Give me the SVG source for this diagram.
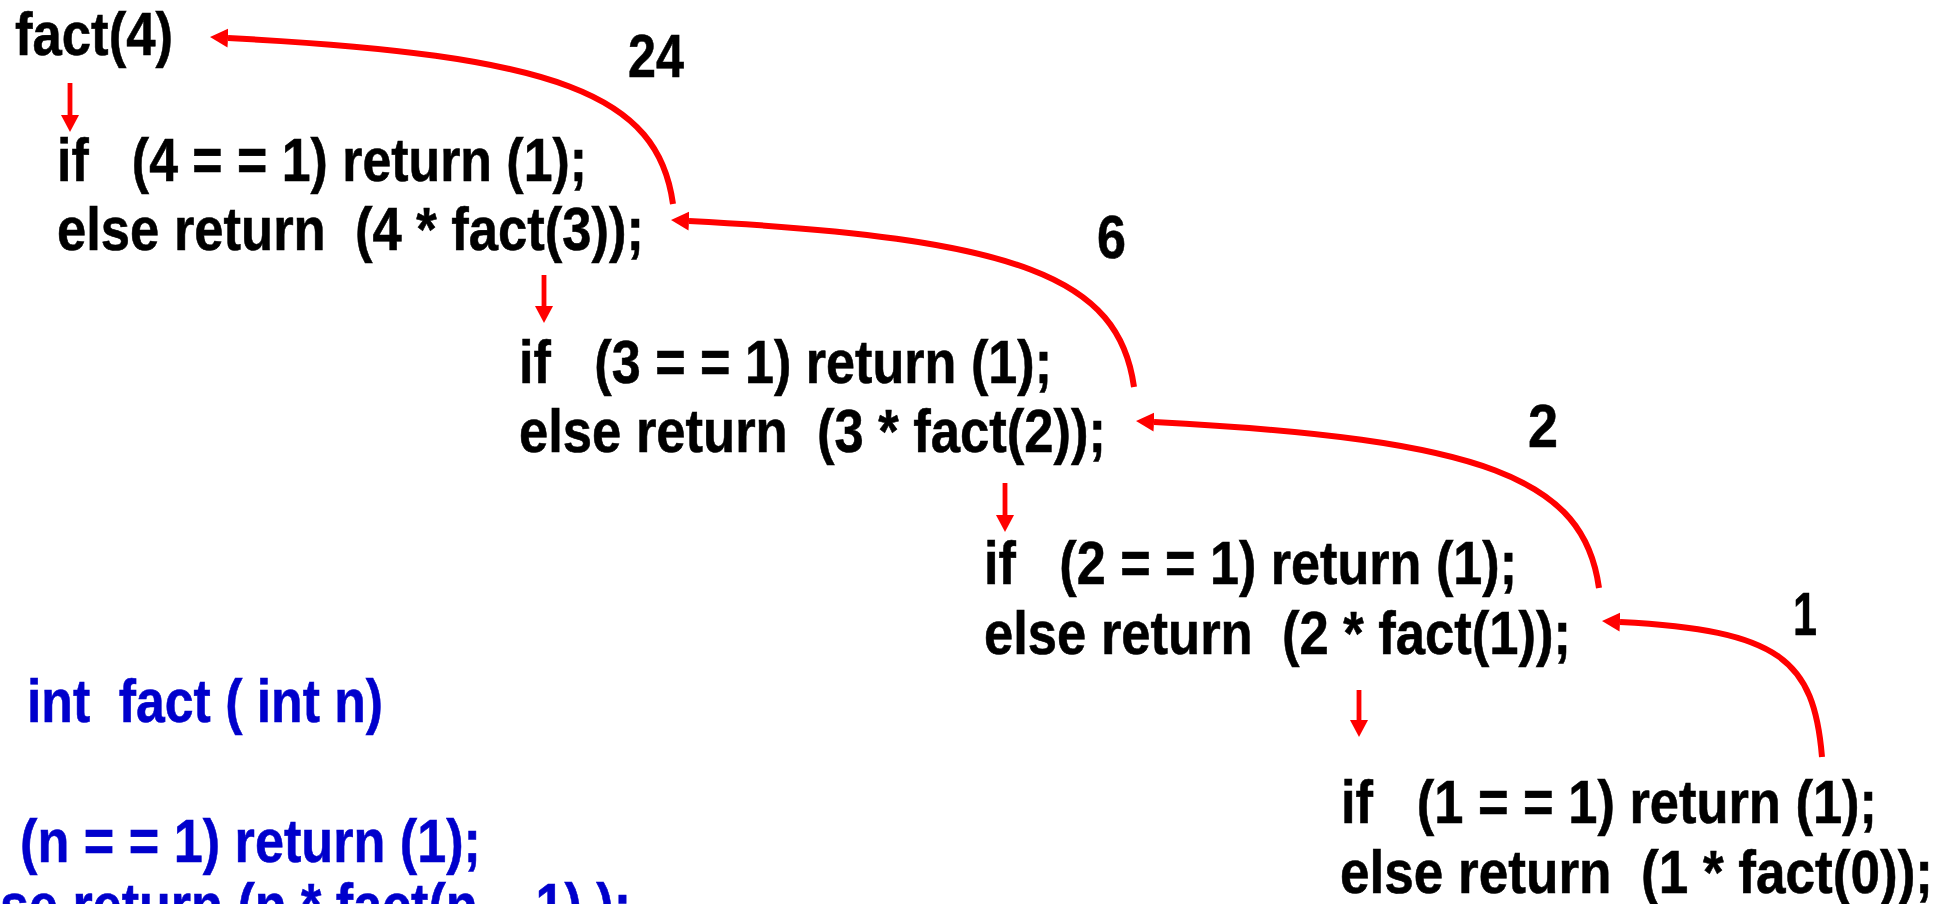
<svg xmlns="http://www.w3.org/2000/svg" width="1937" height="904" viewBox="0 0 1937 904">
<style>
  text { font-family: "Liberation Sans Narrow", "Liberation Sans", Arial, sans-serif; font-weight: bold; font-size: 62px; white-space: pre; stroke-width: 0.6; }
  .code { fill: #000000; stroke: #000000; }
  .def { fill: #0000CC; stroke: #0000CC; }
  .val { fill: #000000; stroke: #000000; }
  .ret { fill: none; stroke: #FF0000; stroke-width: 6; marker-end: url(#headL); }
  .call { fill: none; stroke: #FF0000; stroke-width: 4.8; marker-end: url(#headD); }
</style>
<defs>
  <marker id="headL" markerUnits="userSpaceOnUse" viewBox="0 -10 20 20" refX="0" refY="0" markerWidth="20" markerHeight="20" orient="auto">
    <path d="M0,-9.5 L18,0 L0,9.5 Z" fill="#FF0000"/>
  </marker>
  <marker id="headD" markerUnits="userSpaceOnUse" viewBox="0 -10 20 20" refX="0" refY="0" markerWidth="20" markerHeight="20" orient="auto">
    <path d="M0,-9 L17,0 L0,9 Z" fill="#FF0000"/>
  </marker>
</defs>

<g id="call-fact4">
  <text class="code" x="15" y="55" textLength="158" lengthAdjust="spacingAndGlyphs">fact(4)</text>
</g>

<g id="level-4">
  <text class="code" x="57" y="181" textLength="530" lengthAdjust="spacingAndGlyphs">if   (4 = = 1) return (1);</text>
  <text class="code" x="57" y="250" textLength="587" lengthAdjust="spacingAndGlyphs">else return  (4 * fact(3));</text>
</g>

<g id="level-3">
  <text class="code" x="519" y="383" textLength="533" lengthAdjust="spacingAndGlyphs">if   (3 = = 1) return (1);</text>
  <text class="code" x="519" y="452" textLength="587" lengthAdjust="spacingAndGlyphs">else return  (3 * fact(2));</text>
</g>

<g id="level-2">
  <text class="code" x="984" y="584" textLength="533" lengthAdjust="spacingAndGlyphs">if   (2 = = 1) return (1);</text>
  <text class="code" x="984" y="654" textLength="587" lengthAdjust="spacingAndGlyphs">else return  (2 * fact(1));</text>
</g>

<g id="level-1">
  <text class="code" x="1341" y="823" textLength="536" lengthAdjust="spacingAndGlyphs">if   (1 = = 1) return (1);</text>
  <text class="code" x="1340" y="893" textLength="593" lengthAdjust="spacingAndGlyphs">else return  (1 * fact(0));</text>
</g>

<g id="definition">
  <text class="def" x="27" y="722" textLength="356" lengthAdjust="spacingAndGlyphs">int  fact ( int n)</text>
  <text class="def" x="20" y="862" textLength="461" lengthAdjust="spacingAndGlyphs">(n = = 1) return (1);</text>
  <text class="def" x="0" y="926" textLength="631" lengthAdjust="spacingAndGlyphs">se return (n * fact(n – 1) );</text>
</g>

<g id="connectors">
  <path class="call" d="M70,83 L70,115"/>
  <path class="call" d="M544,275 L544,306"/>
  <path class="call" d="M1005,483 L1005,515"/>
  <path class="call" d="M1359,690 L1359,720"/>

  <path class="ret" d="M673,204 C658,95 560,55 228,38"/>
  <path class="ret" d="M1134,387 C1119,278 1021,238 689,221"/>
  <path class="ret" d="M1599,588 C1584,479 1486,439 1154,422"/>
  <path class="ret" d="M1822,757 C1814,660 1780,630 1620,622"/>
</g>

<g id="return-values">
  <text class="val" x="628" y="77" textLength="56" lengthAdjust="spacingAndGlyphs">24</text>
  <text class="val" x="1097" y="258" textLength="29" lengthAdjust="spacingAndGlyphs">6</text>
  <text class="val" x="1528" y="447" textLength="30" lengthAdjust="spacingAndGlyphs">2</text>
  <text class="val" x="1793" y="635" textLength="24" lengthAdjust="spacingAndGlyphs">1</text>
</g>
</svg>
